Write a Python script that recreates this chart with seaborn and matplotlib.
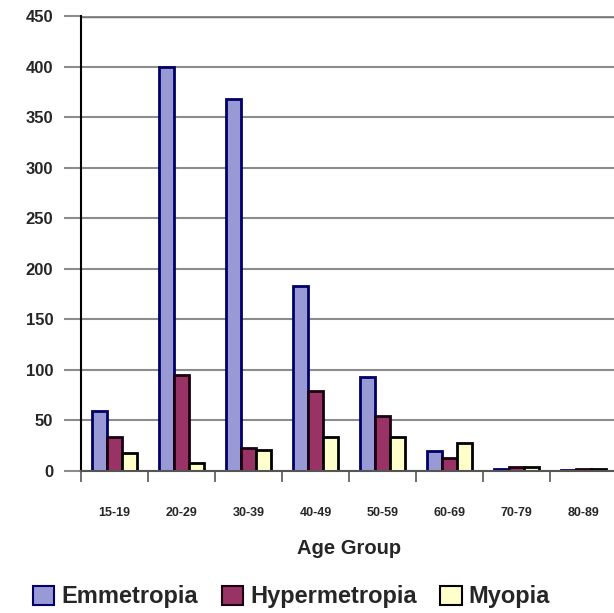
import pandas as pd
import numpy as np
import matplotlib
matplotlib.use('Agg')
import matplotlib.pyplot as plt
import seaborn as sns
from matplotlib.patches import Patch

# valeurs
age_groups = ["15-19", "20-29", "30-39", "40-49", "50-59", "60-69", "70-79", "80-89"]
emmetropia = [59, 400, 368, 183, 93, 20, 2, 1]
hypermetropia = [34, 95, 23, 79, 54, 13, 4, 2]
myopia = [18, 8, 21, 34, 34, 28, 4, 2]
y_ticks = [0, 50, 100, 150, 200, 250, 300, 350, 400, 450]

series = ["Emmetropia", "Hypermetropia", "Myopia"]
couleurs = ["#9999D6", "#993366", "#FFFFCC"]
bords = ["#000066", "#1a0010", "#000000"]

df = pd.DataFrame({"age": age_groups * 3,
                   "type": sum([[s] * len(age_groups) for s in series], []),
                   "n": emmetropia + hypermetropia + myopia})

sns.set_style("white")
plt.rcParams['font.family'] = ['Liberation Sans', 'DejaVu Sans']

fig = plt.figure(figsize=(6.14, 6.13), dpi=100)
ax = fig.add_axes([81 / 614, 1 - 471 / 613, 536 / 614, 455 / 613])

sns.barplot(data=df, x="age", y="n", hue="type", order=age_groups, hue_order=series,
            palette=couleurs, width=0.67, ax=ax, legend=False, saturation=1)

# bords des barres
for i, cont in enumerate(ax.containers):
    for p in cont:
        p.set_edgecolor(bords[i])
        p.set_linewidth(2)

ax.set_ylim(0, 450)
ax.set_xlim(-0.5, 7.5)
ax.set_yticks(y_ticks)
ax.set_yticklabels([str(v) for v in y_ticks], fontsize=12, fontweight='bold')
ax.yaxis.grid(True, color='#8c8c8c', linewidth=1.5)
ax.set_axisbelow(True)
ax.tick_params(axis='y', length=12, color='#8c8c8c', width=1.5, pad=8, left=True)

ax.set_xticks(range(len(age_groups)))
ax.set_xticklabels(age_groups, fontsize=9, fontweight='bold')
ax.tick_params(axis='x', which='major', length=0, pad=26)
ax.set_xticks(np.arange(-0.5, 8, 1), minor=True)
ax.tick_params(axis='x', which='minor', length=8, color='#555555', width=1.2, bottom=True)

for s in ['top', 'right']:
    ax.spines[s].set_visible(False)
ax.spines['left'].set_color('black')
ax.spines['left'].set_linewidth(1.5)
ax.spines['bottom'].set_color('#555555')
ax.spines['bottom'].set_linewidth(1.5)
ax.axhline(450, color='#777777', linewidth=2.5, zorder=0)

ax.set_ylabel("")
ax.set_xlabel("Age Group", fontsize=14.5, fontweight='bold', labelpad=14)

handles = [Patch(facecolor=couleurs[i], edgecolor=bords[i], linewidth=1.5) for i in range(3)]
fig.legend(handles, series, loc='center', bbox_to_anchor=(0.475, 1 - 597 / 613), ncol=3,
           frameon=False, prop={'weight': 'bold', 'size': 17}, handlelength=0.9,
           handleheight=0.9, handletextpad=0.3, columnspacing=1.0)

fig.savefig("out.png", dpi=100)
